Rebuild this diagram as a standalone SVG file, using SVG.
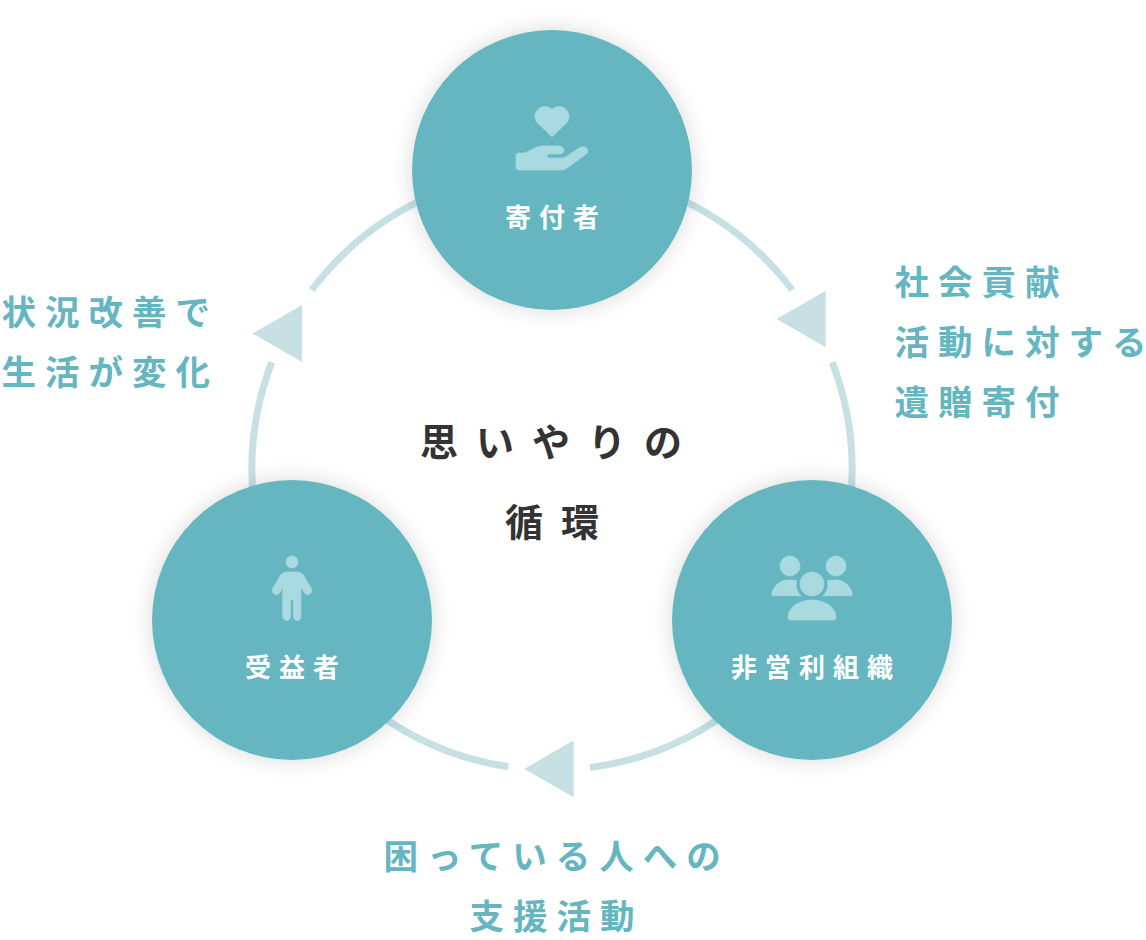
<svg xmlns="http://www.w3.org/2000/svg" width="1146" height="940" viewBox="0 0 1146 940">
<style>
text{font-family:"Noto Sans CJK JP","Noto Sans",sans-serif}
.ring{fill:none;stroke:#c6e0e4;stroke-width:7}
.tri{fill:#c6e0e4}
.disc{fill:#65b6c0;filter:url(#sh)}
.icon{fill:#a8dae0;stroke:#a8dae0;stroke-width:.7;stroke-linejoin:round}
.name{fill:#fff;font-size:26px;font-weight:700;letter-spacing:8px;text-anchor:middle}
.cap{fill:#65b6c0;font-size:34.500px;font-weight:700;letter-spacing:9px}
.mid{fill:#333;font-size:38px;font-weight:700;text-anchor:middle}
.end{letter-spacing:0}
</style>
<defs><filter id="sh" x="-30%" y="-30%" width="160%" height="160%"><feDropShadow dx="0" dy="0" stdDeviation="11" flood-color="#000" flood-opacity=".15"/></filter></defs>
<g id="connectors">
<path class="ring" d="M664 192A300 300 0 0 1 792.3 290"/>
<path class="ring" d="M832.3 362.3A300 300 0 0 1 850 505"/>
<path class="ring" d="M740 703A300 300 0 0 1 590 767.6"/>
<path class="ring" d="M508.3 766.8A300 300 0 0 1 364 703"/>
<path class="ring" d="M254 505A300 300 0 0 1 271.7 362.3"/>
<path class="ring" d="M311.7 290A300 300 0 0 1 440 192"/>
<polygon class="tri" points="776.7,319 825.7,290.7 825.7,347.3"/>
<polygon class="tri" points="524.3,769 573.7,740.3 573.7,797.3"/>
<polygon class="tri" points="252.500,333.500 302,305 302,362"/>
</g>
<g id="donor"><circle class="disc" cx="552" cy="170" r="140"/>
<path class="icon" d="M551 136L536.400 121.800A10 10 0 0 1 552 109.500A10 10 0 0 1 567.600 121.800L553 136Q552 137 551 136Z"/>
<path class="icon" d="M519 153H525L535 148C538 146.500 541 146 544 146H559C562 146 564 148 564 150C564 152.500 562 154 559 154H550C548 154 547 155 547 156C547 157.500 548 158 550 158H561C563 158 565 157.500 567 156L580 147.500C585 144.500 590 150 587 153.500L570 166C567 168.500 564 170 560 170H519C517 170 516 169 516 167V156C516 154 517 153 519 153Z"/>
<text class="name" x="556" y="227">寄付者</text></g>
<g id="beneficiary"><circle class="disc" cx="292" cy="620" r="140"/>
<circle class="icon" cx="292" cy="562" r="6"/>
<path class="icon" d="M287 572H297C300 572 302 573 304 576L311 588C314 593 307 597 304.500 593L301 587V616C301 622 293.500 622 293.500 616V600H290.500V616C290.500 622 282.700 622 282.700 616V587L279.500 593C277 597 270 593 273 588L280 576C282 573 284 572 287 572Z"/>
<text class="name" x="296" y="677">受益者</text></g>
<g id="npo"><circle class="disc" cx="812" cy="620" r="140"/>
<circle class="icon" cx="790" cy="566" r="10"/><circle class="icon" cx="836" cy="566" r="10"/><circle class="icon" cx="812" cy="584" r="12"/>
<path class="icon" d="M773 595.700Q771.500 595.700 771.800 594C773 586 780 580 788 580C791 580 794 580 796.500 580.700A16 16 0 0 0 801 595.700Z"/>
<path class="icon" d="M851 595.700Q852.500 595.700 852.200 594C851 586 844 580 836 580C833 580 830 580 827.500 580.700A16 16 0 0 1 823 595.700Z"/>
<path class="icon" d="M788 617C788 607 800 600 812 600C824 600 836 607 836 617C836 619 835 620 833 620H791C789 620 788 619 788 617Z"/>
<text class="name" x="816" y="677">非営利組織</text></g>
<g id="captions">
<text class="cap" x="894.500" y="295">社会貢献</text>
<text class="cap" x="894.500" y="355">活動に対す<tspan class="end">る</tspan></text>
<text class="cap" x="894.500" y="415">遺贈寄付</text>
<text class="cap" x="1.500" y="325">状況改善で</text>
<text class="cap" x="1.500" y="385">生活が変化</text>
<text class="cap" x="383.500" y="869">困っている人への</text>
<text class="cap" x="469.500" y="929">支援活動</text>
</g>
<g id="center">
<text class="mid" x="560" y="456" letter-spacing="18">思いやりの</text>
<text class="mid" x="561" y="536" letter-spacing="18">循環</text>
</g>
</svg>
